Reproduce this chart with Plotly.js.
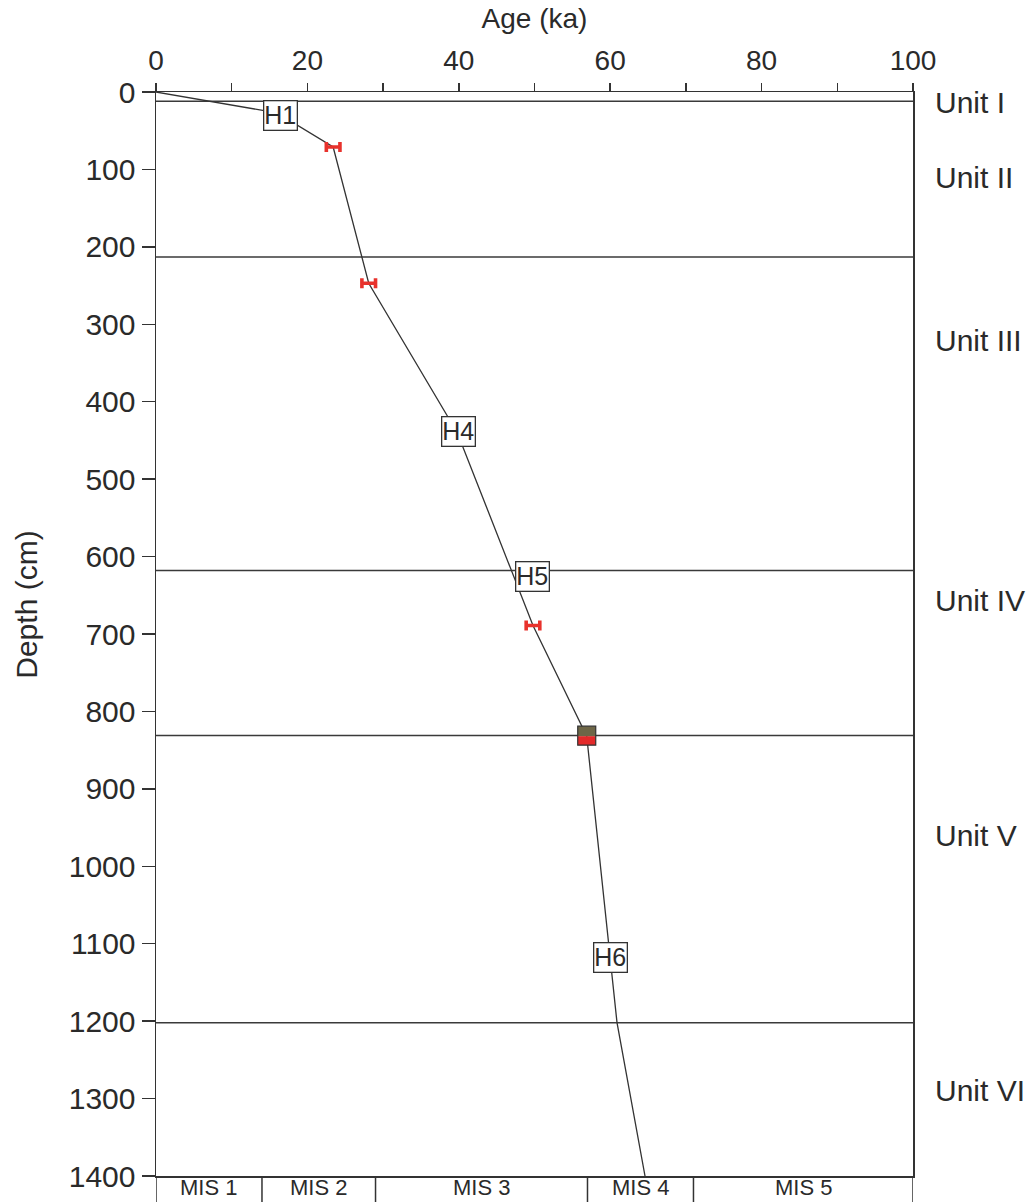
<!DOCTYPE html>
<html>
<head>
<meta charset="utf-8">
<script src="https://cdn.plot.ly/plotly-3.0.1.min.js"></script>
<style>html,body{margin:0;padding:0;background:#fff;}#chart{width:1033px;height:1202px;}</style>
</head>
<body>
<div id="chart"></div>
<script>
// Age-depth model (ka, cm)
const modelAges   = [0, 16, 23.4, 28.1, 39.8, 49.8, 56.9, 60.9, 64.6];
const modelDepths = [0, 27, 71, 247, 440, 689, 832, 1202, 1400];

// Dated levels with horizontal error bars (red)
const datedAges   = [23.4, 28.1, 49.8];
const datedDepths = [71, 247, 689];
const datedErrors = [0.9, 0.9, 0.9];

// Special two-colour marker
const squareAge = [56.9];
const squareDepth = [832];

// Heinrich event labels
const hNames  = ['H1', 'H4', 'H5', 'H6'];
const hAges   = [16.5, 39.9, 49.7, 60.0];
const hDepths = [30, 438, 626, 1118];

// Lithological units
const unitBoundaries = [12, 213, 618, 831, 1202];
const unitNames   = ['Unit I', 'Unit II', 'Unit III', 'Unit IV', 'Unit V', 'Unit VI'];
const unitCenters = [13, 111, 321, 657, 960, 1290];

// Marine isotope stages
const misBounds = [0, 14, 29, 57, 71, 100];
const misNames  = ['MIS 1', 'MIS 2', 'MIS 3', 'MIS 4', 'MIS 5'];

// X tick labels
const xTickVals = [0, 10, 20, 30, 40, 50, 60, 70, 80, 90, 100];
const xTickText = ['0', '', '20', '', '40', '', '60', '', '80', '', '100'];

const FONT = 'Liberation Sans, Arial, sans-serif';
const INK = '#2a2a2a';
const stripBottom = -0.03;

const traces = [
  {
    x: modelAges, y: modelDepths, type: 'scatter', mode: 'lines',
    line: {color: '#333', width: 1.3}, hoverinfo: 'skip', showlegend: false
  },
  {
    x: datedAges, y: datedDepths, type: 'scatter', mode: 'markers',
    marker: {size: 1, color: '#e8322c'},
    error_x: {type: 'data', array: datedErrors, visible: true, color: '#e8322c', thickness: 3.6, width: 5},
    showlegend: false
  }
];

const shapes = [];
// unit boundary lines
unitBoundaries.forEach(d => shapes.push({
  type: 'line', xref: 'x', yref: 'y', x0: 0, x1: 100, y0: d, y1: d,
  line: {color: '#3a3a3a', width: 1.5}, layer: 'below'
}));
// square marker (top brown, bottom red)
shapes.push({type: 'rect', xref: 'x', yref: 'y', xsizemode: 'pixel', ysizemode: 'pixel',
  xanchor: squareAge[0], yanchor: squareDepth[0], x0: -9, x1: 9, y0: 0, y1: 10,
  fillcolor: '#6e6647', line: {width: 0}});
shapes.push({type: 'rect', xref: 'x', yref: 'y', xsizemode: 'pixel', ysizemode: 'pixel',
  xanchor: squareAge[0], yanchor: squareDepth[0], x0: -9, x1: 9, y0: -9, y1: 0,
  fillcolor: '#e32a2a', line: {width: 0}});
shapes.push({type: 'rect', xref: 'x', yref: 'y', xsizemode: 'pixel', ysizemode: 'pixel',
  xanchor: squareAge[0], yanchor: squareDepth[0], x0: -9, x1: 9, y0: -9, y1: 10,
  fillcolor: 'rgba(0,0,0,0)', line: {color: '#333', width: 1.2}});
// MIS strip
misBounds.forEach(b => shapes.push({
  type: 'line', xref: 'x', yref: 'paper', x0: b, x1: b, y0: 0, y1: stripBottom,
  line: {color: '#333', width: 1.5}
}));

const annotations = [];
hNames.forEach((n, i) => annotations.push({
  x: hAges[i], y: hDepths[i], xref: 'x', yref: 'y', text: n, showarrow: false,
  font: {family: FONT, size: 25, color: INK},
  bgcolor: '#fff', bordercolor: '#333', borderwidth: 1.3, borderpad: 0
}));
unitNames.forEach((n, i) => annotations.push({
  x: 1, xshift: 20, y: unitCenters[i], xref: 'paper', yref: 'y', text: n,
  xanchor: 'left', yanchor: 'middle', showarrow: false,
  font: {family: FONT, size: 30, color: INK}
}));
misNames.forEach((n, i) => annotations.push({
  x: (misBounds[i] + misBounds[i + 1]) / 2, y: -0.0103, xref: 'x', yref: 'paper', text: n,
  xanchor: 'center', yanchor: 'middle', showarrow: false,
  font: {family: FONT, size: 22, color: INK}, borderpad: 0
}));
// y-axis title placed as rotated annotation
annotations.push({
  x: 0, xshift: -129, y: 0.527, xref: 'paper', yref: 'paper', text: 'Depth (cm)',
  textangle: -90, xanchor: 'center', yanchor: 'middle', showarrow: false,
  font: {family: FONT, size: 30, color: INK}
});

const layout = {
  width: 1033, height: 1202,
  margin: {l: 156, r: 120, t: 92, b: 26},
  paper_bgcolor: '#fff', plot_bgcolor: '#fff',
  font: {family: FONT, size: 28, color: INK},
  showlegend: false,
  xaxis: {
    side: 'top', range: [0, 100], tickvals: xTickVals, ticktext: xTickText,
    ticks: 'outside', ticklen: 8, tickwidth: 1.5, tickcolor: '#333',
    showline: true, linecolor: '#333', linewidth: 1.5, mirror: true,
    showgrid: false, zeroline: false, ticklabelstandoff: 1,
    title: {text: 'Age (ka)', font: {family: FONT, size: 28, color: INK}, standoff: 8},
    tickfont: {family: FONT, size: 28, color: INK}
  },
  yaxis: {
    range: [1400, 0], dtick: 100, tick0: 0,
    ticks: 'outside', ticklen: 13, tickwidth: 1.5, tickcolor: '#333',
    showline: true, linecolor: '#333', linewidth: 1.5, mirror: true,
    showgrid: false, zeroline: false,
    tickfont: {family: FONT, size: 30, color: INK}
  },
  shapes: shapes,
  annotations: annotations
};

Plotly.newPlot('chart', traces, layout, {displayModeBar: false, staticPlot: true});
</script>
</body>
</html>
